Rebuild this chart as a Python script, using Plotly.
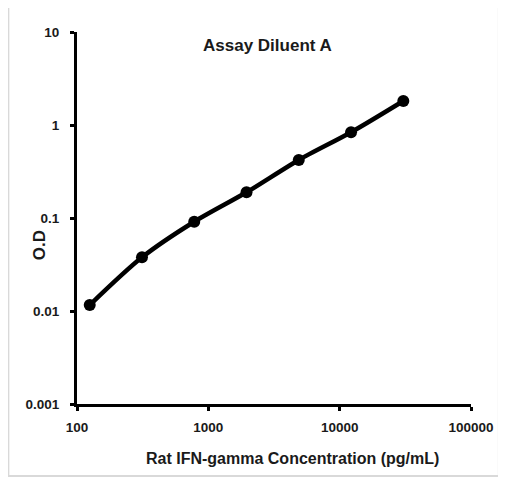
import plotly.graph_objects as go

concentration = [125, 312.5, 781, 1953, 4883, 12207, 30518]
od_values = [0.0116, 0.0378, 0.0912, 0.189, 0.421, 0.835, 1.81]

x_tickvals = [100, 1000, 10000, 100000]
x_ticktext = ["100", "1000", "10000", "100000"]
y_tickvals = [0.001, 0.01, 0.1, 1, 10]
y_ticktext = ["0.001", "0.01", "0.1", "1", "10"]

FONT = "Liberation Sans, Arial, sans-serif"
TXT = "#1a1a1a"

# page body has an 8px margin; figure fills the rest of the 506x477 window
W, H = 498, 469
OFF = 8
L, R, T, B = 77 - OFF, W - (473 - OFF), 32 - OFF, H - (404 - OFF)

fig = go.Figure()
fig.add_trace(go.Scatter(
    x=concentration, y=od_values,
    mode="lines+markers",
    line=dict(color="black", width=4.5, shape="spline", smoothing=0.8),
    marker=dict(color="black", size=12),
    showlegend=False,
))

axis_common = dict(
    type="log",
    showline=True, linecolor="black", linewidth=3,
    ticks="outside", ticklen=4, tickwidth=3, tickcolor="black",
    showgrid=False, zeroline=False,
    tickfont=dict(family=FONT, size=13.5, color=TXT, weight="bold"),
)

fig.update_layout(
    width=W, height=H,
    margin=dict(l=L, r=R, t=T, b=B),
    paper_bgcolor="white", plot_bgcolor="white",
    font=dict(family=FONT, color=TXT, size=14),
    xaxis=dict(range=[2, 5], tickvals=x_tickvals, ticktext=x_ticktext,
               ticklabelstandoff=5, **axis_common),
    yaxis=dict(range=[-3, 1], tickvals=y_tickvals, ticktext=y_ticktext,
               ticklabelstandoff=8, **axis_common),
)

pw = W - L - R
ph = H - T - B


def px_to_paper(sx, sy):
    return (sx - OFF - L) / pw, (H - (sy - OFF) - B) / ph


annots = [
    ("<b>Assay Diluent A</b>", 268.5, 46, 17, 0),
    ("<b>Rat IFN-gamma Concentration (pg/mL)</b>", 294, 458, 16, 0),
    ("<b>O.D</b>", 40, 245, 17, -90),
]
for text, sx, sy, size, ang in annots:
    ax, ay = px_to_paper(sx, sy)
    fig.add_annotation(text=text, x=ax, y=ay, xref="paper", yref="paper",
                       xanchor="center", yanchor="middle", showarrow=False,
                       textangle=ang, font=dict(family=FONT, size=size, color=TXT))

x0, y0 = px_to_paper(8, 476)
x1, y1 = px_to_paper(501, 7)
fig.add_shape(type="rect", xref="paper", yref="paper", x0=x0, x1=x1, y0=y0, y1=y1,
              line=dict(color="#d9d9d9", width=2), fillcolor="rgba(0,0,0,0)", layer="below")

fig.write_html("out.html")
